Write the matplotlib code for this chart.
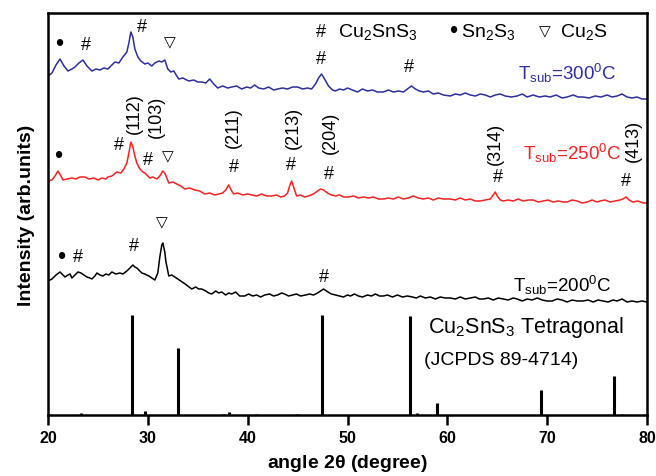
import numpy as np
import matplotlib
matplotlib.use('Agg')
import matplotlib.pyplot as plt

plt.rcParams['font.family'] = ['Liberation Sans', 'DejaVu Sans']
plt.rcParams['mathtext.fontset'] = 'custom'
plt.rcParams['mathtext.rm'] = 'Liberation Sans'
plt.rcParams['mathtext.it'] = 'Liberation Sans:italic'
plt.rcParams['mathtext.bf'] = 'Liberation Sans:bold'

# XRD patterns (2theta, intensity in arbitrary offset units)
xrd_300 = [
    (20.0, 339), (20.4, 342), (20.8, 350), (21.2, 356), (21.6, 349), (22.0, 344), (22.4, 346),
    (22.7, 348), (23.1, 352), (23.5, 355), (23.9, 349), (24.4, 344), (24.8, 346), (25.2, 345),
    (25.6, 347), (26.0, 346), (26.4, 350), (26.7, 353), (27.1, 352), (27.5, 358), (27.9, 363),
    (28.1, 372), (28.3, 383), (28.5, 378), (28.7, 366), (29.0, 358), (29.3, 354), (29.7, 351),
    (30.0, 352), (30.4, 349), (30.7, 352), (31.1, 354), (31.4, 353), (31.7, 355), (32.0, 346),
    (32.3, 343), (32.6, 344), (32.9, 339), (33.1, 336), (33.5, 337), (34.1, 334), (34.6, 335),
    (35.0, 333), (35.4, 333), (35.8, 332), (36.2, 336), (36.6, 331), (37.0, 327), (37.5, 329),
    (38.0, 327), (38.4, 328), (38.9, 329), (39.4, 326), (39.9, 328), (40.3, 327), (40.7, 330),
    (41.1, 327), (41.6, 326), (42.1, 328), (42.6, 325), (43.0, 326), (43.5, 327), (44.0, 326),
    (44.5, 328), (45.0, 328), (45.5, 326), (46.0, 327), (46.4, 326), (46.8, 331), (47.1, 337),
    (47.4, 341), (47.7, 336), (48.1, 329), (48.5, 325), (48.8, 324), (49.2, 326), (49.6, 325),
    (50.0, 327), (50.5, 325), (51.0, 323), (51.5, 326), (52.0, 324), (52.5, 325), (53.0, 323),
    (53.6, 323), (54.1, 325), (54.6, 323), (55.1, 324), (55.6, 323), (56.0, 326), (56.4, 329),
    (56.8, 326), (57.2, 324), (57.6, 323), (58.1, 324), (58.6, 321), (59.1, 322), (59.6, 320),
    (60.3, 319), (60.8, 321), (61.3, 320), (61.8, 322), (62.3, 320), (62.8, 319), (63.3, 321),
    (63.8, 320), (64.3, 318), (64.8, 320), (65.3, 321), (65.8, 319), (66.4, 318), (67.0, 319),
    (67.5, 321), (68.0, 318), (68.6, 320), (69.2, 318), (69.8, 319), (70.3, 318), (70.9, 320),
    (71.5, 317), (72.0, 318), (72.6, 320), (73.1, 318), (73.6, 318), (74.2, 317), (74.8, 319),
    (75.4, 318), (76.0, 320), (76.5, 318), (77.0, 319), (77.5, 321), (78.0, 318), (78.5, 317),
    (79.0, 318), (79.5, 316), (80.0, 316),
]

xrd_250 = [
    (20.0, 234), (20.4, 235), (20.7, 239), (21.0, 244), (21.3, 239), (21.5, 235), (21.9, 236),
    (22.4, 237), (22.8, 236), (23.2, 238), (23.7, 238), (24.1, 236), (24.6, 237), (25.0, 235),
    (25.4, 237), (25.8, 236), (26.0, 238), (26.4, 239), (26.9, 243), (27.3, 242), (27.6, 246),
    (27.9, 252), (28.1, 262), (28.3, 273), (28.5, 268), (28.7, 259), (28.9, 252), (29.2, 246),
    (29.5, 243), (29.7, 242), (29.9, 240), (30.2, 237), (30.5, 238), (30.9, 236), (31.2, 239),
    (31.5, 244), (31.7, 242), (32.1, 232), (32.5, 233), (32.9, 231), (33.3, 229), (33.7, 226),
    (34.2, 227), (34.7, 225), (35.2, 224), (35.7, 221), (36.2, 222), (36.7, 220), (37.1, 221),
    (37.5, 222), (37.8, 225), (38.1, 230), (38.4, 224), (38.6, 221), (39.0, 222), (39.5, 220),
    (40.0, 221), (40.4, 220), (40.9, 219), (41.4, 221), (41.9, 219), (42.4, 219), (42.9, 220),
    (43.3, 218), (43.7, 219), (44.0, 222), (44.2, 229), (44.4, 234), (44.6, 228), (44.9, 219),
    (45.3, 220), (45.7, 218), (46.1, 219), (46.6, 221), (47.0, 224), (47.3, 226), (47.6, 225),
    (48.0, 222), (48.4, 220), (48.8, 219), (49.2, 220), (49.6, 218), (50.1, 218), (50.6, 219),
    (51.1, 217), (51.6, 218), (52.1, 217), (52.6, 218), (53.1, 216), (53.6, 216), (54.1, 217),
    (54.6, 216), (55.1, 218), (55.6, 216), (56.1, 217), (56.6, 219), (57.1, 217), (57.6, 216),
    (58.1, 217), (58.6, 215), (59.1, 217), (59.6, 216), (60.3, 216), (60.8, 215), (61.3, 217),
    (61.8, 215), (62.3, 216), (62.8, 214), (63.3, 214), (63.8, 215), (64.3, 216), (64.6, 220),
    (64.8, 223), (65.0, 219), (65.3, 215), (65.6, 214), (66.1, 215), (66.6, 214), (67.1, 216),
    (67.6, 214), (68.1, 215), (68.6, 215), (69.1, 213), (69.6, 214), (70.1, 215), (70.6, 213),
    (71.1, 214), (71.6, 213), (72.0, 213), (72.5, 215), (73.0, 214), (73.5, 212), (74.0, 213),
    (74.5, 215), (75.0, 213), (75.3, 214), (75.8, 215), (76.3, 213), (76.8, 214), (77.3, 215),
    (77.6, 216), (77.9, 218), (78.2, 215), (78.6, 213), (79.1, 214), (79.6, 212), (80.0, 212),
]

xrd_200 = [
    (20.0, 134), (20.4, 136), (20.8, 140), (21.2, 143), (21.5, 140), (21.7, 138), (22.0, 140),
    (22.2, 141), (22.4, 137), (22.7, 140), (23.0, 143), (23.3, 142), (23.6, 140), (23.9, 138),
    (24.2, 137), (24.4, 136), (24.7, 139), (24.9, 142), (25.2, 140), (25.5, 139), (25.8, 141),
    (26.1, 140), (26.4, 143), (26.8, 141), (27.2, 142), (27.5, 141), (27.9, 144), (28.2, 147),
    (28.5, 150), (28.7, 148), (28.9, 147), (29.2, 144), (29.4, 142), (29.7, 141), (30.1, 139),
    (30.4, 137), (30.7, 135), (31.0, 142), (31.2, 158), (31.4, 170), (31.5, 172), (31.7, 163),
    (31.8, 154), (32.0, 144), (32.1, 139), (32.4, 140), (32.7, 138), (33.0, 136), (33.3, 134),
    (33.6, 132), (34.0, 129), (34.4, 126), (34.8, 128), (35.1, 126), (35.4, 126), (35.8, 124),
    (36.1, 122), (36.4, 121), (36.8, 124), (37.1, 122), (37.4, 123), (37.8, 120), (38.1, 122),
    (38.4, 121), (38.8, 123), (39.2, 119), (39.7, 119), (40.1, 121), (40.5, 119), (40.9, 120),
    (41.3, 118), (41.7, 120), (42.2, 121), (42.6, 119), (43.0, 120), (43.4, 122), (43.7, 121),
    (44.1, 119), (44.5, 120), (44.9, 121), (45.3, 119), (45.8, 120), (46.2, 121), (46.6, 120),
    (47.0, 122), (47.3, 124), (47.6, 126), (47.9, 124), (48.2, 122), (48.4, 121), (48.8, 120),
    (49.2, 119), (49.6, 118), (50.0, 120), (50.3, 119), (50.7, 121), (51.1, 119), (51.5, 118),
    (52.0, 120), (52.4, 119), (52.8, 121), (53.2, 119), (53.6, 119), (54.0, 120), (54.5, 118),
    (55.0, 120), (55.5, 118), (56.0, 119), (56.5, 118), (56.9, 117), (57.3, 119), (57.8, 117),
    (58.3, 118), (58.8, 116), (59.3, 118), (59.8, 117), (60.3, 117), (60.8, 116), (61.3, 118),
    (61.8, 116), (62.3, 117), (62.8, 118), (63.2, 116), (63.6, 116), (64.1, 117), (64.6, 115),
    (65.1, 117), (65.6, 116), (66.1, 115), (66.6, 117), (67.0, 116), (67.5, 114), (68.0, 116),
    (68.5, 115), (69.0, 117), (69.5, 115), (70.0, 114), (70.5, 114), (71.0, 116), (71.5, 115),
    (72.0, 113), (72.5, 115), (73.0, 114), (73.6, 114), (74.1, 115), (74.6, 113), (75.1, 115),
    (75.6, 114), (76.1, 113), (76.6, 115), (77.0, 114), (77.5, 116), (78.0, 113), (78.5, 114),
    (79.0, 113), (79.5, 114), (80.0, 113),
]

# JCPDS 89-4714 reference lines
ref_pos = [23.3, 28.45, 29.7, 33.0, 37.5, 38.1, 40.8, 44.9, 47.45, 56.25, 57.0, 59.0, 69.35, 76.65, 77.5]
ref_int = [2, 100, 4, 67, 1.5, 3, 1.5, 1.5, 100, 99, 2, 12, 25, 39, 1.5]

# phase markers: (symbol, x, y)
marks_300 = [('•', 21.1, 371), ('#', 23.8, 370), ('#', 29.4, 388), ('▽', 32.2, 373),
             ('#', 47.35, 356), ('#', 56.2, 348)]
marks_250 = [('•', 21.0, 259), ('#', 27.1, 271), ('#', 30.05, 255), ('▽', 32.0, 259),
             ('#', 38.6, 248), ('#', 44.35, 250), ('#', 48.1, 241), ('#', 65.1, 238),
             ('#', 77.9, 234)]
marks_200 = [('•', 21.3, 158), ('#', 23.0, 159), ('#', 28.6, 169), ('▽', 31.4, 193),
             ('#', 47.6, 139)]
hkl = [('(112)', 28.7, 302), ('(103)', 30.9, 299), ('(211)', 38.6, 288), ('(213)', 44.6, 288),
       ('(204)', 48.3, 283), ('(314)', 64.8, 272), ('(413)', 78.6, 275)]

blue = '#2e2e9c'
red = '#f52222'
sym_size = {'#': 13, '•': 17, '▽': 11}

fig = plt.figure(figsize=(6.56, 4.77), dpi=100)
ax = fig.add_axes([48 / 656, 1 - 416 / 477, 599 / 656, 402 / 477])

for data, col in [(xrd_300, blue), (xrd_250, red), (xrd_200, 'k')]:
    x, y = np.array(data).T
    ax.plot(x, y, color=col, lw=1.1)

ax.vlines(ref_pos, 0, ref_int, color='k', lw=2.2)

ax.set_xlim(20, 80)
ax.set_ylim(0, 402)
ax.set_xticks(range(20, 81, 10))
ax.set_yticks([])
ax.tick_params(axis='x', direction='out', length=7, width=1.8, pad=4, labelsize=11.5)
for lab in ax.get_xticklabels():
    lab.set_fontweight('bold')
for s in ['bottom', 'left', 'top', 'right']:
    ax.spines[s].set_linewidth(1.8)

ax.set_xlabel(r'angle 2$\mathbf{\theta}$ (degree)', fontsize=14, fontweight='bold', labelpad=5)
ax.set_ylabel('Intensity (arb.units)', fontsize=14, fontweight='bold', labelpad=9)

for marks in [marks_300, marks_250, marks_200]:
    for sym, mx, my in marks:
        ax.text(mx, my, sym, ha='center', va='center', fontsize=sym_size[sym])

for lab, lx, ly in hkl:
    ax.text(lx, ly, lab, rotation=90, ha='center', va='center', fontsize=13)

# phase legend
ax.text(47.35, 379, '#', ha='center', va='baseline', fontsize=13)
ax.text(49.05, 379, r'Cu$_2$SnS$_3$', ha='left', va='baseline', fontsize=14)
ax.text(60.6, 384, '•', ha='center', va='center', fontsize=17)
ax.text(61.4, 379, r'Sn$_2$S$_3$', ha='left', va='baseline', fontsize=14)
ax.text(69.8, 384, '▽', ha='center', va='center', fontsize=11)
ax.text(71.3, 379, r'Cu$_2$S', ha='left', va='baseline', fontsize=14)

ax.text(67.1, 336, r'T$_{\rm sub}$=300$^{\rm 0}$C', color=blue, fontsize=13.5, va='baseline')
ax.text(67.6, 256, r'T$_{\rm sub}$=250$^{\rm 0}$C', color=red, fontsize=13.5, va='baseline')
ax.text(66.6, 124, r'T$_{\rm sub}$=200$^{\rm 0}$C', color='k', fontsize=13.5, va='baseline')

ax.text(58.1, 83, r'Cu$_2$SnS$_3$ Tetragonal', fontsize=15.5, va='baseline')
ax.text(57.7, 51, '(JCPDS 89-4714)', fontsize=14, va='baseline')

fig.savefig('out.png', dpi=100)
